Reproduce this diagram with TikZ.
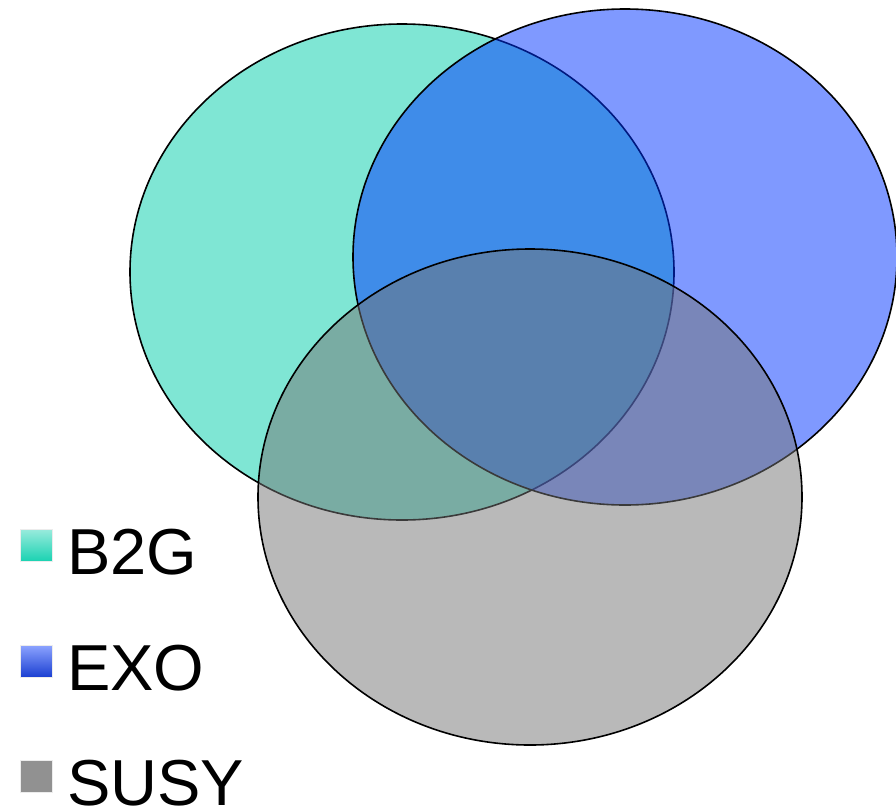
\documentclass[tikz,border=0pt]{standalone}
\usepackage{fontspec}
\setmainfont{Liberation Sans}
\usetikzlibrary{shapes.geometric}
\definecolor{bgreen}{RGB}{0,205,169}
\definecolor{eblue}{RGB}{0,51,255}
\definecolor{sgray}{RGB}{116,116,116}
\tikzset{
  setellipse/.style={ellipse, draw=black, line width=1.6pt, fill opacity=0.5,
    inner sep=0pt, minimum width=544pt, minimum height=496pt},
  legendbox/.style={minimum size=32pt, inner sep=0pt, anchor=north west, draw=white!85!gray, line width=0.5pt},
  legendtext/.style={anchor=base west, inner sep=0pt, font=\fontsize{65}{65}\selectfont}
}
\begin{document}
\begin{tikzpicture}[x=1pt,y=-1pt]
  \useasboundingbox (0,0) rectangle (896,809);
  % the three sets
  \node (b2g) [setellipse, fill=bgreen] at (402,272) {};
  \node (exo) [setellipse, fill=eblue] at (625,257) {};
  \node (susy) [setellipse, fill=sgray] at (530,497) {};
  % legend
  \node (kb2g) [legendbox, top color=bgreen!40!white, bottom color=bgreen!90!white] at (20,529) {};
  \node (keexo) [legendbox, top color=eblue!45!white, bottom color=eblue!80!black!90!white] at (20,645) {};
  \node (ksusy) [legendbox, fill=black!43] at (20,760) {};
  \node (tb2g) [legendtext] at (67,574) {B2G};
  \node (texo) [legendtext] at (67,690) {EXO};
  \node (tsusy) [legendtext] at (67,805) {SUSY};
\end{tikzpicture}
\end{document}
